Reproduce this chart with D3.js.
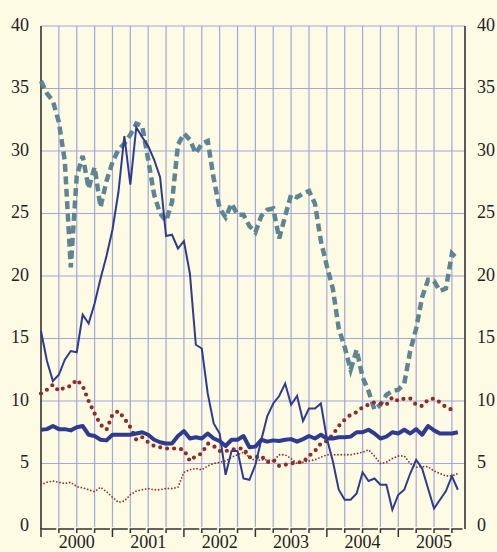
<!DOCTYPE html>
<html>
<head>
<meta charset="utf-8">
<script src="https://cdn.jsdelivr.net/npm/d3@7"></script>
<style>
  html, body { margin: 0; padding: 0; background: #fdfbe4; }
  svg { display: block; }
  text { font-family: "Liberation Serif", "DejaVu Serif", serif; font-size: 18px; fill: #222; }
</style>
</head>
<body>
<svg id="chart" width="497" height="552"></svg>
<script>
// Monthly data, Jan 2000 .. Nov 2005
const years = ["2000", "2001", "2002", "2003", "2004", "2005"];
const yTicks = [0, 5, 10, 15, 20, 25, 30, 35, 40];

// thin navy solid line
const seriesThin = [15.6,13.2,11.6,12.1,13.3,14.0,13.9,16.9,16.2,17.8,
  19.8,21.6,23.7,26.7,31.2,27.3,31.9,31.1,30.4,29.3,
  27.9,23.2,23.3,22.2,22.8,20.2,14.5,14.2,10.6,8.2,
  7.4,4.1,6.0,6.0,3.8,3.7,4.9,6.9,8.8,9.8,
  10.4,11.4,9.7,10.4,8.4,9.4,9.4,9.8,7.0,5.2,
  2.9,2.1,2.1,2.6,4.3,3.6,3.8,3.3,3.3,1.3,
  2.5,2.9,4.2,5.3,4.6,3.0,1.4,2.1,2.8,4.0,2.9];

// thick navy solid line
const seriesThick = [7.7,7.75,8.0,7.75,7.75,7.65,7.9,8.0,7.3,7.2,
  6.9,6.85,7.3,7.3,7.3,7.3,7.4,7.5,7.3,6.9,
  6.7,6.6,6.6,7.2,7.6,7.0,7.1,7.0,7.4,7.0,
  6.8,6.4,6.9,6.9,7.2,6.3,6.35,6.9,6.75,6.85,
  6.8,6.9,6.95,6.75,6.95,7.2,7.0,7.3,7.0,7.0,
  7.1,7.1,7.15,7.5,7.5,7.7,7.4,7.0,7.15,7.5,
  7.4,7.7,7.4,7.75,7.3,8.0,7.65,7.4,7.4,7.4,7.5];

// thick grey-blue dashed line
const seriesDashed = [35.6,34.6,34.0,32.3,29.2,20.7,28.0,29.6,27.0,28.7,
  25.5,27.6,29.1,30.1,30.6,31.3,32.2,32.0,29.3,26.5,
  25.0,24.4,25.9,30.5,31.4,30.9,29.8,30.6,30.8,27.8,
  25.4,24.7,25.8,24.9,24.9,24.0,23.5,24.8,25.3,25.4,
  23.0,24.8,26.5,26.3,26.6,26.8,25.8,22.8,20.8,19.0,
  15.8,14.3,12.5,14.1,11.9,10.8,9.3,9.7,10.5,10.8,
  10.9,11.4,14.0,15.8,18.3,19.7,19.6,18.8,19.0,21.8,21.3];

// heavy red dotted line (ends Oct 2005)
const seriesDots = [10.6,10.9,11.3,10.8,11.1,11.2,11.7,11.2,10.0,9.0,
  8.1,7.7,8.9,9.2,8.6,7.9,6.9,7.1,6.7,6.4,
  6.3,6.2,6.2,6.2,6.1,5.2,5.6,5.8,6.6,6.4,
  6.0,6.0,6.1,6.2,6.2,5.5,5.5,5.6,5.1,5.3,
  4.8,4.9,5.0,5.1,5.1,5.6,6.0,6.6,6.8,7.3,
  8.0,8.5,8.9,9.1,9.5,9.7,9.9,9.8,9.7,10.3,
  10.0,10.2,10.2,9.7,9.6,10.1,10.2,9.9,9.5,9.3];

// fine red dotted line
const seriesFine = [3.3,3.5,3.6,3.5,3.4,3.5,3.15,3.05,2.9,2.75,
  3.1,2.75,2.3,1.9,2.0,2.5,2.8,2.9,3.0,2.9,
  2.9,3.0,3.0,3.1,4.3,4.5,4.6,4.5,4.8,5.0,
  5.1,5.2,5.5,5.7,5.9,5.5,5.2,5.3,5.3,5.2,
  5.7,5.7,5.4,5.0,5.1,5.2,5.3,5.5,5.7,5.7,
  5.7,5.7,5.7,5.8,5.9,6.1,5.6,5.0,5.1,5.4,
  5.6,5.6,5.0,4.7,4.75,4.75,4.4,4.2,4.0,4.0,4.2];

const svg = d3.select("#chart");
const x = d3.scaleLinear().domain([0, 71.2]).range([41, 465]);
const y = d3.scaleLinear().domain([0, 40]).range([526, 26]);
const xEnd = 71.2;

const quarters = d3.range(0, 70, 3);
const gridColor = "#a4a7dc";

// horizontal grid
svg.append("g").selectAll("line").data(yTicks.filter(d => d > 0)).join("line")
  .attr("x1", x(0)).attr("x2", x(xEnd))
  .attr("y1", d => y(d)).attr("y2", d => y(d))
  .attr("stroke", gridColor).attr("stroke-width", 1.2);

// vertical grid
svg.append("g").selectAll("line").data(quarters.filter(d => d > 0)).join("line")
  .attr("x1", d => x(d)).attr("x2", d => x(d))
  .attr("y1", y(40)).attr("y2", y(0) + 1)
  .attr("stroke", gridColor).attr("stroke-width", 1.2);

// axes lines
svg.append("line").attr("x1", x(0)).attr("x2", x(0)).attr("y1", y(40)).attr("y2", 529)
  .attr("stroke", "#333").attr("stroke-width", 1.6);
svg.append("line").attr("x1", x(xEnd)).attr("x2", x(xEnd)).attr("y1", y(40)).attr("y2", 529)
  .attr("stroke", "#333").attr("stroke-width", 1.6);

// bottom hook ticks
const hookPath = quarters.map((q, i) => {
  const x0 = x(q);
  const x1 = (i < quarters.length - 1 ? x(quarters[i + 1]) : x(xEnd)) - 2.5;
  const depth = q % 12 === 0 ? 537 : 533;
  return `M${x0},${depth}V529H${x1}`;
}).join("");
svg.append("path").attr("d", hookPath).attr("fill", "none")
  .attr("stroke", "#333").attr("stroke-width", 1.5);

// y labels
svg.append("g").selectAll("text").data(yTicks).join("text")
  .attr("x", 29).attr("y", d => y(d) + 4.5).attr("text-anchor", "end").text(d => d);
svg.append("g").selectAll("text").data(yTicks).join("text")
  .attr("x", 477).attr("y", d => y(d) + 4.5).attr("text-anchor", "start").text(d => d);

// year labels
svg.append("g").selectAll("text").data(years).join("text")
  .attr("x", (d, i) => x(i * 12 + 6)).attr("y", 548)
  .attr("text-anchor", "middle").text(d => d);

const line = d3.line().x((d, i) => x(i)).y(d => y(d));

// series
svg.append("path").datum(seriesDashed).attr("d", line).attr("fill", "none")
  .attr("stroke", "#5f8493").attr("stroke-width", 4.5).attr("stroke-dasharray", "8,4.5");
svg.append("path").datum(seriesFine).attr("d", line).attr("fill", "none")
  .attr("stroke", "#93302e").attr("stroke-width", 1.8).attr("stroke-linecap", "round")
  .attr("stroke-dasharray", "0,3.3");
svg.append("path").datum(seriesDots).attr("d", line).attr("fill", "none")
  .attr("stroke", "#8f2c2b").attr("stroke-width", 4.2).attr("stroke-linecap", "round")
  .attr("stroke-dasharray", "0,7");
svg.append("path").datum(seriesThick).attr("d", line).attr("fill", "none")
  .attr("stroke", "#2e3b8f").attr("stroke-width", 4).attr("stroke-linejoin", "round");
svg.append("path").datum(seriesThin).attr("d", line).attr("fill", "none")
  .attr("stroke", "#2e3b8f").attr("stroke-width", 2).attr("stroke-linejoin", "miter");
</script>
</body>
</html>
